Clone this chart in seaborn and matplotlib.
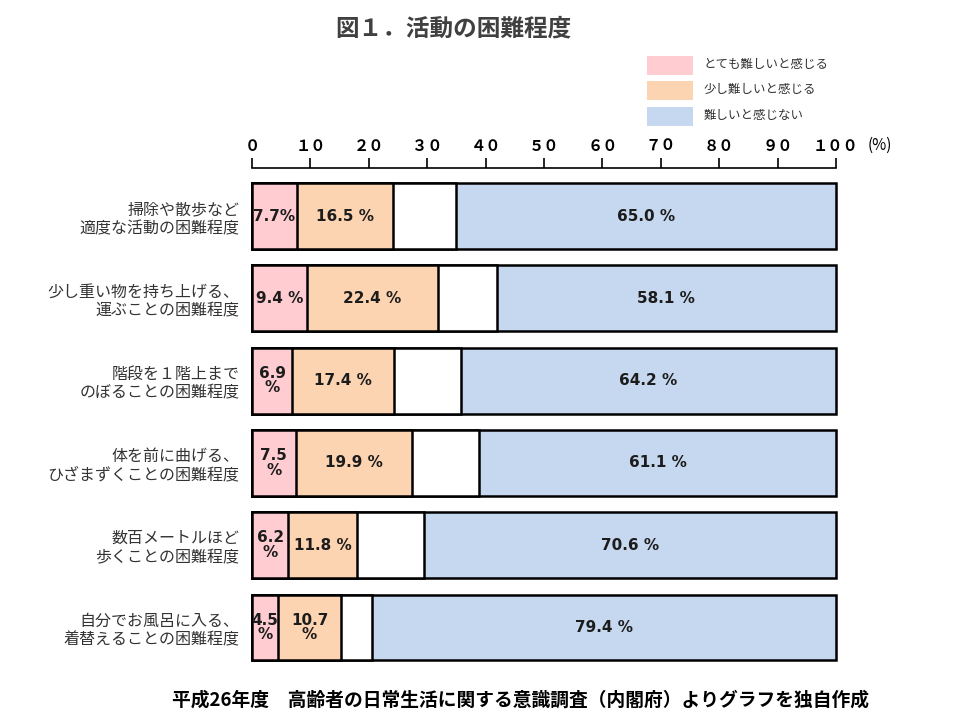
import matplotlib
matplotlib.use("Agg")
import matplotlib.pyplot as plt
from matplotlib.patches import Rectangle
import numpy as np
import seaborn as sns

# --- data -----------------------------------------------------------------
categories = [
    "掃除や散歩など\n適度な活動の困難程度",
    "少し重い物を持ち上げる、\n運ぶことの困難程度",
    "階段を１階上まで\nのぼることの困難程度",
    "体を前に曲げる、\nひざまずくことの困難程度",
    "数百メートルほど\n歩くことの困難程度",
    "自分でお風呂に入る、\n着替えることの困難程度",
]
very_hard = [7.7, 9.4, 6.9, 7.5, 6.2, 4.5]        # とても難しいと感じる
a_bit_hard = [16.5, 22.4, 17.4, 19.9, 11.8, 10.7]  # 少し難しいと感じる
other = [10.8, 10.1, 11.5, 11.5, 11.4, 5.4]        # unlabeled white segment
not_hard = [65.0, 58.1, 64.2, 61.1, 70.6, 79.4]    # 難しいと感じない

very_hard_labels = ["7.7%", "9.4 %", "6.9\n%", "7.5\n%", "6.2\n%", "4.5\n%"]
a_bit_hard_labels = ["16.5 %", "22.4 %", "17.4 %", "19.9 %", "11.8 %", "10.7\n%"]
not_hard_labels = ["65.0 %", "58.1 %", "64.2 %", "61.1 %", "70.6 %", "79.4 %"]

ticks = [0, 10, 20, 30, 40, 50, 60, 70, 80, 90, 100]
tick_labels = ["０", "１０", "２０", "３０", "４０", "５０", "６０", "７０", "８０", "９０", "１００"]
legend_labels = ["とても難しいと感じる", "少し難しいと感じる", "難しいと感じない"]

PINK = "#FFCCD1"
PEACH = "#FCD4B2"
BLUE = "#C6D8EF"
WHITE = "#FFFFFF"

sns.set_style("white")
plt.rcParams["font.family"] = ["Noto Sans CJK JP", "DejaVu Sans"]

W, H = 960, 720
fig = plt.figure(figsize=(W / 100, H / 100), dpi=100)
ax = fig.add_axes([252 / W, 1 - 670 / H, 584 / W, (670 - 168) / H])

# stacked bars drawn as overlapping cumulative layers, longest first
c1 = np.array(very_hard)
c2 = c1 + np.array(a_bit_hard)
c3 = c2 + np.array(other)
c4 = c3 + np.array(not_hard)
for vals, col in [(c4, BLUE), (c3, WHITE), (c2, PEACH), (c1, PINK)]:
    sns.barplot(x=vals, y=categories, orient="h", color=col, saturation=1,
                edgecolor="black", linewidth=1.8, width=0.8, errorbar=None, ax=ax)
for p in ax.patches:
    p.set_clip_on(False)

ax.set_xlim(0, 100)
ax.set_ylim(5.517, -0.584)
ax.set_xlabel("")
ax.set_ylabel("")

# value labels
txt_kw = dict(ha="center", va="center", fontsize=11, fontweight="bold",
              family=["DejaVu Sans"], color="#1c1c1c", linespacing=0.95)
for i in range(len(categories)):
    ax.text(c1[i] / 2, i, very_hard_labels[i], **txt_kw)
    ax.text((c1[i] + c2[i]) / 2, i, a_bit_hard_labels[i], **txt_kw)
    ax.text((c3[i] + c4[i]) / 2, i, not_hard_labels[i], **txt_kw)

# top axis with ticks
ax.xaxis.tick_top()
ax.set_xticks(ticks)
ax.set_xticklabels(tick_labels, fontsize=11, fontweight="bold")
ax.tick_params(axis="x", direction="out", length=7, width=1.2, pad=3, colors="black")
for side in ["bottom", "left", "right"]:
    ax.spines[side].set_visible(False)
ax.spines["top"].set_color("black")
ax.spines["top"].set_linewidth(1.2)

ax.tick_params(axis="y", length=0, pad=9, labelsize=11.5, labelcolor="#333333")
for t in ax.get_yticklabels():
    t.set_linespacing(1.15)

fig.text(880 / W, 1 - 145 / H, "(%)", fontsize=11, ha="center", va="center", color="black")

# title and source note
fig.text(453 / W, 1 - 28 / H, "図１．活動の困難程度", fontsize=17, fontweight="bold",
         color="#404040", ha="center", va="center")
fig.text(521 / W, 1 - 700 / H,
         "平成26年度　高齢者の日常生活に関する意識調査（内閣府）よりグラフを独自作成",
         fontsize=13.5, fontweight="bold", color="black", ha="center", va="center")

# hand-placed legend
for k, (lab, col) in enumerate(zip(legend_labels, [PINK, PEACH, BLUE])):
    top = 56 + k * 25.5
    fig.add_artist(Rectangle((647 / W, 1 - (top + 18.5) / H), 46 / W, 18.5 / H,
                             transform=fig.transFigure, facecolor=col, edgecolor="none"))
    fig.text(704 / W, 1 - (top + 8) / H, lab, fontsize=9, color="#333333",
             ha="left", va="center")

fig.savefig("out.png", dpi=100)
